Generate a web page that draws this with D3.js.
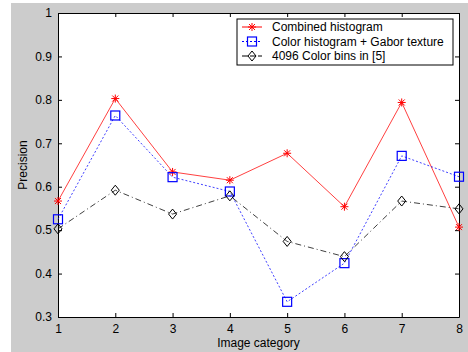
<!DOCTYPE html>
<html>
<head>
<meta charset="utf-8">
<script src="https://cdn.jsdelivr.net/npm/d3@7"></script>
<style>
	body { margin: 0; background: #fff; }
	svg { display: block; font-family: "Liberation Sans", Arial, sans-serif; }
</style>
</head>
<body>
<div id="chart"></div>
<script>

// data
const categories = [1, 2, 3, 4, 5, 6, 7, 8];
const combined = [0.567, 0.803, 0.634, 0.615, 0.677, 0.554, 0.794, 0.507];
const colorGabor = [0.525, 0.764, 0.622, 0.589, 0.335, 0.424, 0.671, 0.623];
const colorBins = [0.503, 0.592, 0.537, 0.579, 0.474, 0.439, 0.567, 0.549];
const yTicks = [0.3, 0.4, 0.5, 0.6, 0.7, 0.8, 0.9, 1];
const seriesNames = ["Combined histogram", "Color histogram + Gabor texture", "4096 Color bins in [5]"];

// setup
const width = 468;
const height = 352;
const margin = {top: 13, right: 9, bottom: 35, left: 58};
const plotWidth = width - margin.left - margin.right;
const plotHeight = height - margin.top - margin.bottom;

const svg = d3.select("#chart").append("svg")
	.attr("width", width)
	.attr("height", height);

// grey figure background
svg.append("rect")
	.attr("x", 11).attr("y", 3)
	.attr("width", width - 11).attr("height", height - 3)
	.attr("fill", "#cccccc");

const plot = svg.append("g")
	.attr("transform", `translate(${margin.left}, ${margin.top})`);

plot.append("rect")
	.attr("width", plotWidth).attr("height", plotHeight)
	.attr("fill", "#fff");

// scales
const xScale = d3.scaleLinear()
	.domain(d3.extent(categories))
	.range([0, plotWidth]);

const yScale = d3.scaleLinear()
	.domain([0.3, 1])
	.range([plotHeight, 0]);

// axes (ticks inside, mirrored on top/right)
const tickSize = 4;
plot.append("g")
	.attr("transform", `translate(0, ${plotHeight})`)
	.call(d3.axisBottom(xScale).tickValues(categories).tickFormat(d3.format("d")).tickSizeInner(-tickSize).tickSizeOuter(0).tickPadding(7));

plot.append("g")
	.call(d3.axisLeft(yScale).tickValues(yTicks).tickFormat(d => d === 1 ? "1" : d3.format(".1f")(d)).tickSizeInner(-tickSize).tickSizeOuter(0).tickPadding(6));

plot.append("g")
	.call(d3.axisTop(xScale).tickValues(categories).tickFormat("").tickSizeInner(-tickSize).tickSizeOuter(0));

plot.append("g")
	.attr("transform", `translate(${plotWidth}, 0)`)
	.call(d3.axisRight(yScale).tickValues(yTicks).tickFormat("").tickSizeInner(-tickSize).tickSizeOuter(0));

plot.selectAll(".domain").attr("stroke", "#000");
plot.selectAll(".tick line").attr("stroke", "#000");
plot.selectAll(".tick text").attr("fill", "#000").attr("font-size", 12);

// lines
const line = d3.line()
	.x((d, i) => xScale(categories[i]))
	.y(d => yScale(d));

const series = [
	{values: combined, color: "#ff0000", dash: null, marker: "star"},
	{values: colorGabor, color: "#0000ff", dash: "2,2", marker: "square"},
	{values: colorBins, color: "#000000", dash: "6,3,1,3", marker: "diamond"}
];

function drawMarker(g, type, color) {
	if (type === "star") {
		g.append("path")
			.attr("d", "M-4,0H4M0,-4V4M-3,-3L3,3M-3,3L3,-3")
			.attr("stroke", color).attr("stroke-width", 1).attr("fill", "none");
	} else if (type === "square") {
		g.append("rect")
			.attr("x", -4.5).attr("y", -4.5).attr("width", 9).attr("height", 9)
			.attr("stroke", color).attr("stroke-width", 1.2).attr("fill", "none");
	} else {
		g.append("path")
			.attr("d", "M0,-5L4,0L0,5L-4,0Z")
			.attr("stroke", color).attr("stroke-width", 1).attr("fill", "none");
	}
}

series.forEach(s => {
	plot.append("path")
		.datum(s.values)
		.attr("fill", "none")
		.attr("stroke", s.color)
		.attr("stroke-width", 1)
		.attr("stroke-opacity", 0.75)
		.attr("stroke-dasharray", s.dash)
		.attr("d", line);

	s.values.forEach((v, i) => {
		const g = plot.append("g")
			.attr("transform", `translate(${xScale(categories[i])}, ${yScale(v)})`);
		drawMarker(g, s.marker, s.color);
	});
});

// legend
const legend = plot.append("g")
	.attr("transform", `translate(${plotWidth - 222}, 6)`);

legend.append("rect")
	.attr("width", 216).attr("height", 46)
	.attr("fill", "#fff").attr("stroke", "#000");

series.forEach((s, i) => {
	const row = legend.append("g")
		.attr("transform", `translate(0, ${8 + i * 14.5})`);
	row.append("line")
		.attr("x1", 5).attr("x2", 25)
		.attr("stroke", s.color)
		.attr("stroke-dasharray", s.dash ? (i === 1 ? "2,2" : "6,2") : null);
	drawMarker(row.append("g").attr("transform", "translate(15,0)"), s.marker, s.color);
	row.append("text")
		.attr("x", 35).attr("dy", "0.35em")
		.attr("font-size", 12)
		.text(seriesNames[i]);
});

// labels
svg.append("text")
	.attr("x", margin.left + plotWidth / 2)
	.attr("y", 347)
	.attr("text-anchor", "middle")
	.attr("font-size", 12)
	.text("Image category");

svg.append("text")
	.attr("transform", `translate(27, ${margin.top + plotHeight / 2}) rotate(-90)`)
	.attr("text-anchor", "middle")
	.attr("font-size", 12)
	.text("Precision");

</script>
</body>
</html>
